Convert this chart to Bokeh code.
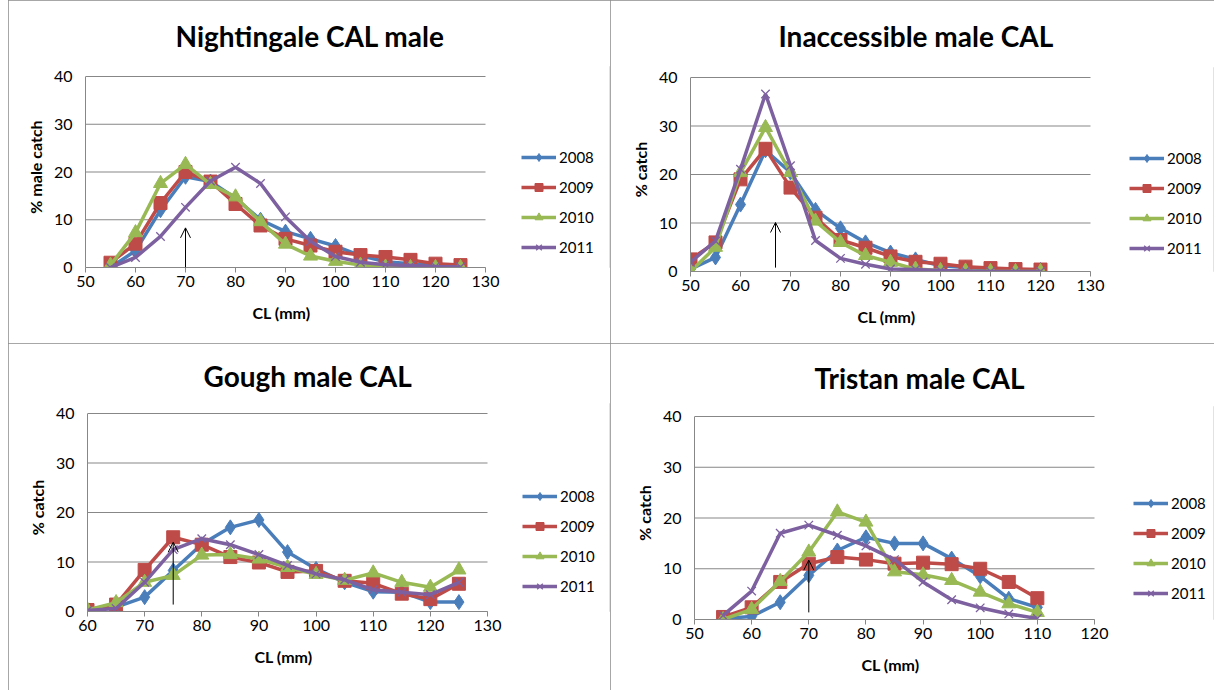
from bokeh.plotting import figure
from bokeh.layouts import column, row
from bokeh.models import (Legend, LegendItem, Arrow, OpenHead, FixedTicker,
                          Range1d, Title)
from bokeh.embed import file_html
from bokeh.resources import INLINE

years = ["2008", "2009", "2010", "2011"]
line_colors = ["#4A7EBB", "#BE4B48", "#98B954", "#7D60A0"]
markers = ["diamond", "square", "triangle", "x"]
marker_sizes = [15, 13, 14, 12]
y_ticks = [0, 10, 20, 30, 40]

# Nightingale CAL male
ng_cl = [55, 60, 65, 70, 75, 80, 85, 90, 95, 100, 105, 110, 115, 120, 125]
ng_2008 = [0.0, 3.5, 12.0, 19.0, 18.0, 14.5, 10.0, 7.5, 6.0, 4.5, 2.5, 1.2, 0.8, 0.4, 0.3]
ng_2009 = [1.0, 5.0, 13.5, 20.0, 18.0, 13.3, 8.8, 6.0, 4.6, 3.3, 2.6, 2.2, 1.6, 0.8, 0.5]
ng_2010 = [0.5, 7.3, 17.6, 21.6, 17.4, 14.8, 9.6, 4.9, 2.4, 1.3, 0.5, 0.1, 0.0, 0.0, 0.0]
ng_2011 = [0.0, 2.1, 6.5, 12.6, 18.1, 21.0, 17.6, 10.6, 5.5, 2.3, 1.1, 0.6, 0.4, 0.2, 0.1]

# Inaccessible male CAL
in_cl = [50, 55, 60, 65, 70, 75, 80, 85, 90, 95, 100, 105, 110, 115, 120]
in_2008 = [0.5, 2.9, 13.8, 25.0, 20.4, 12.7, 8.9, 6.0, 3.9, 2.5, 1.2, 0.8, 0.5, 0.3, 0.3]
in_2009 = [2.5, 6.0, 19.0, 25.3, 17.3, 11.1, 6.5, 4.9, 3.1, 2.0, 1.6, 1.0, 0.7, 0.5, 0.4]
in_2010 = [0.0, 5.0, 20.4, 29.7, 20.4, 10.4, 6.0, 3.3, 1.9, 0.5, 0.2, 0.1, 0.0, 0.0, 0.0]
in_2011 = [1.9, 6.3, 21.1, 36.6, 21.8, 6.4, 2.7, 1.5, 0.5, 0.4, 0.2, 0.1, 0.0, 0.0, 0.0]

# Gough male CAL
go_cl = [60, 65, 70, 75, 80, 85, 90, 95, 100, 105, 110, 115, 120, 125]
go_2008 = [0.3, 0.9, 2.9, 8.3, 13.6, 17.0, 18.5, 12.0, 8.6, 5.9, 4.0, 3.9, 1.9, 1.9]
go_2009 = [0.3, 1.4, 8.4, 15.0, 13.5, 11.0, 9.9, 8.0, 8.2, 6.2, 5.7, 3.6, 2.5, 5.6]
go_2010 = [0.3, 1.8, 5.9, 7.3, 11.4, 11.5, 10.6, 8.9, 7.5, 6.3, 7.8, 5.9, 4.9, 8.4]
go_2011 = [0.2, 0.6, 5.9, 12.5, 14.7, 13.5, 11.5, 9.3, 7.6, 6.4, 4.4, 3.9, 3.4, 5.9]

# Tristan male CAL
tr_cl = [55, 60, 65, 70, 75, 80, 85, 90, 95, 100, 105, 110]
tr_2008 = [0.2, 0.6, 3.4, 8.7, 13.6, 16.2, 15.0, 15.0, 12.0, 8.5, 4.1, 2.4]
tr_2009 = [0.5, 2.4, 7.4, 11.0, 12.3, 11.8, 11.0, 11.2, 10.9, 10.0, 7.4, 4.2]
tr_2010 = [0.0, 2.0, 7.5, 13.3, 21.2, 19.2, 9.4, 8.8, 7.7, 5.4, 3.1, 1.4]
tr_2011 = [0.8, 5.6, 17.0, 18.6, 16.6, 14.5, 11.8, 7.4, 3.9, 2.3, 1.1, 0.2]

# arrows: (x, y_start, y_end)
ng_arrow = (70, 0.0, 8.3)
in_arrow = (67, 0.8, 10.1)
go_arrow = (75, 1.4, 14.0)
tr_arrow = (70, 1.4, 11.7)

FONT = "Lato"
GRAY = "#878787"
EXT = 10  # blank pixels of frame above the 40 line


def make_panel(title, ylabel, cl, series, xlim, arrow, geo):
    W, H, left, top, fh, title_off, title_gap, lx, ly = geo
    AXW = 400  # pixel width of the axis span
    right = 1
    fw = W - left - right
    x_end = xlim[0] + fw * (xlim[1] - xlim[0]) / AXW
    y_end = 40 * (fh + EXT) / fh
    p = figure(width=W, height=H, output_backend="svg", toolbar_location=None,
               x_range=Range1d(xlim[0], x_end), y_range=Range1d(0, y_end),
               min_border_left=left, min_border_right=right,
               min_border_top=top - EXT, min_border_bottom=H - top - fh,
               tools="")
    p.outline_line_color = None
    p.background_fill_color = "white"
    p.border_fill_color = "white"
    p.styles = {"outline": "1px solid #8a8a8a", "outline-offset": "-1px"}

    p.title.text = title
    p.title.text_font = FONT
    p.title.text_font_size = "28px"
    p.title.text_font_style = "bold"
    p.title.text_color = "black"
    p.title.align = "left"
    p.title.offset = title_off
    p.title.standoff = max(0, 2 * (title_gap - EXT) - 35)

    p.xaxis.ticker = FixedTicker(ticks=list(range(xlim[0], xlim[1] + 1, 10)))
    p.xaxis.bounds = (xlim[0], xlim[1])
    p.yaxis.ticker = FixedTicker(ticks=y_ticks)
    p.yaxis.bounds = (0, 40)
    p.xgrid.visible = False
    p.ygrid.visible = False
    # horizontal gridlines limited to the axis span
    p.segment(x0=[xlim[0]] * len(y_ticks), x1=[xlim[1]] * len(y_ticks),
              y0=y_ticks, y1=y_ticks, line_color=GRAY, line_width=1)
    for ax in (p.xaxis, p.yaxis):
        ax.axis_line_color = GRAY
        ax.major_tick_line_color = GRAY
        ax.minor_tick_line_color = None
        ax.major_tick_in = 0
        ax.major_label_text_font = FONT
        ax.major_label_text_font_size = "16px"
        ax.major_label_text_color = "black"
        ax.axis_label_text_font = FONT
        ax.axis_label_text_font_size = "16px"
        ax.axis_label_text_font_style = "bold"
        ax.axis_label_text_color = "black"
    p.xaxis.major_tick_out = 5
    p.xaxis.major_label_standoff = 3
    p.yaxis.major_tick_out = 0
    p.yaxis.major_label_standoff = 13
    p.yaxis.axis_label = ylabel
    p.yaxis.axis_label_standoff = 6

    # x-axis label, centred under the 400px axis span
    p.add_layout(Title(text="CL (mm)", align="left", offset=167,
                       vertical_align="middle", standoff=24,
                       text_font=FONT, text_font_size="16px",
                       text_font_style="bold", text_color="black"), "below")

    items = []
    for yr, vals, col, mk, ms in zip(years, series, line_colors, markers, marker_sizes):
        r1 = p.line(cl, vals, line_color=col, line_width=3.5)
        if mk == "x":
            r2 = p.scatter(cl, vals, marker=mk, size=ms, line_color=col, line_width=1.3)
        else:
            r2 = p.scatter(cl, vals, marker=mk, size=ms, fill_color=col, line_color=col)
        items.append(LegendItem(label=yr, renderers=[r1, r2]))

    ax_, y0, y1 = arrow
    p.add_layout(Arrow(end=OpenHead(size=10, line_width=1, line_color="black"),
                       x_start=ax_, y_start=y0, x_end=ax_, y_end=y1,
                       line_width=1, line_color="black"))

    leg = Legend(items=items, location=(lx, ly), orientation="vertical")
    leg.border_line_color = None
    leg.background_fill_alpha = 0
    leg.padding = 0
    leg.margin = 0
    leg.spacing = 10
    leg.glyph_width = 35
    leg.glyph_height = 20
    leg.label_height = 20
    leg.label_standoff = 3
    leg.label_text_font = FONT
    leg.label_text_font_size = "15px"
    leg.label_text_color = "black"
    p.add_layout(leg, "center")
    return p


p1 = make_panel("Nightingale CAL male", "% male catch", ng_cl,
                [ng_2008, ng_2009, ng_2010, ng_2011], (50, 130), ng_arrow,
                (602, 343, 77, 76, 191, 90, 41, 436, 10))
p2 = make_panel("Inaccessible male CAL", "% catch", in_cl,
                [in_2008, in_2009, in_2010, in_2011], (50, 130), in_arrow,
                (604, 343, 80, 77, 194, 88, 42, 439, 13))
p3 = make_panel("Gough male CAL", "% catch", go_cl,
                [go_2008, go_2009, go_2010, go_2011], (60, 130), go_arrow,
                (602, 347, 79, 70, 198, 116, 38, 435, 15))
p4 = make_panel("Tristan male CAL", "% catch", tr_cl,
                [tr_2008, tr_2009, tr_2010, tr_2011], (50, 120), tr_arrow,
                (604, 347, 84, 73, 203, 120, 39, 439, 16))

layout = column(row(column(p1), column(p2)), row(column(p3), column(p4)),
                margin=(0, 0, 0, 8))
open("out.html", "w").write(file_html(layout, INLINE))
